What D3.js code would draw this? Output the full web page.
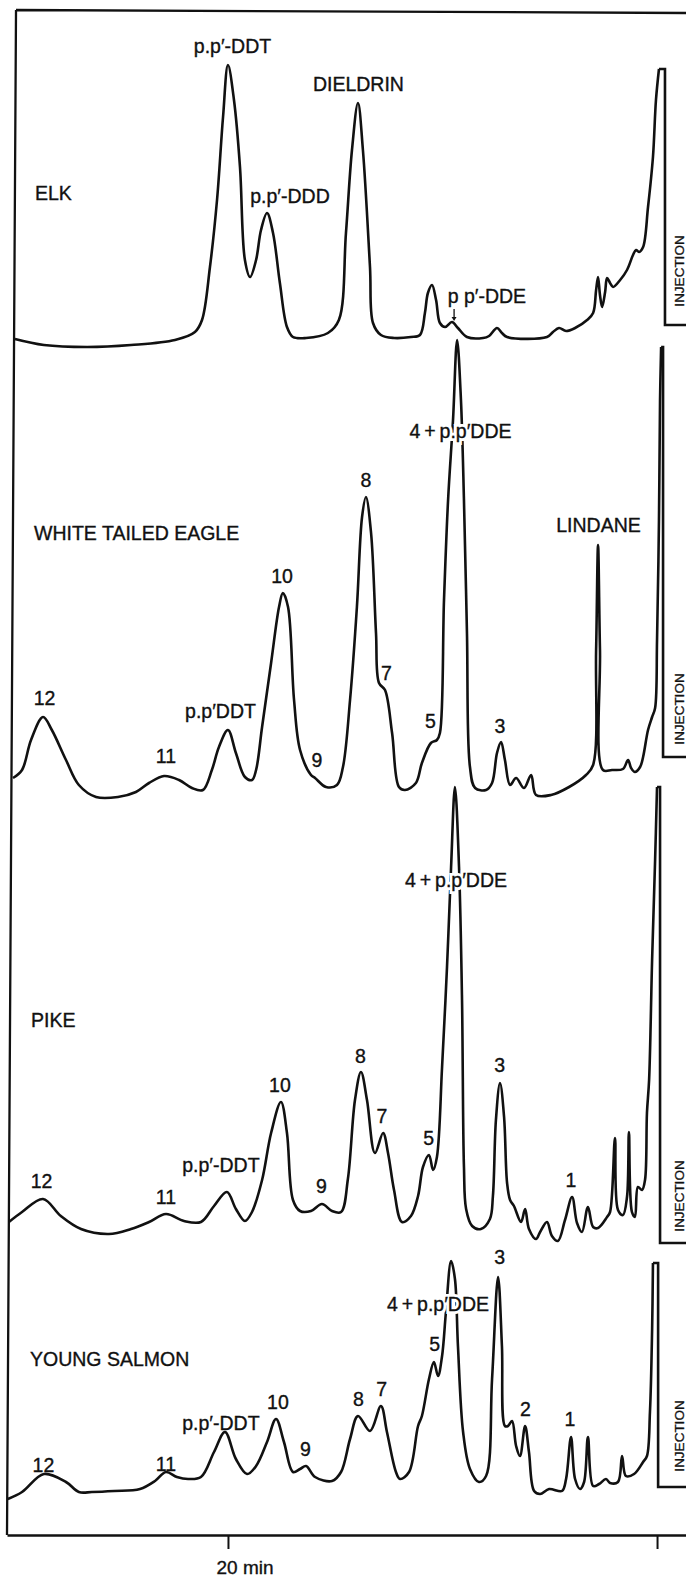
<!DOCTYPE html>
<html>
<head>
<meta charset="utf-8">
<script src="https://cdn.jsdelivr.net/npm/d3@7"></script>
<style>
    body { margin: 0; background: #fff; }
    svg { display: block; }
    text { font-family: "Liberation Sans", Arial, Helvetica, sans-serif; fill: #111; }
</style>
</head>
<body>
<svg id="chart" width="686" height="1579"></svg>
<script>
// Gas chromatograms of four extracts. Each point = [retention time (min), detector response (arb. units)]
// Time runs right to left, injection at 0 min.
const elkTrace = [
    [29.93, 8], [28.58, 2], [26.57, 0], [24.52, 2], [22.47, 7], [21.54, 15], [21.21, 27], [20.84, 80],
    [20.51, 147], [20.23, 230], [20.00, 282], [19.72, 247], [19.44, 180], [19.21, 87], [18.97, 70],
    [18.69, 87], [18.46, 117], [18.18, 134], [17.90, 114], [17.58, 64], [17.25, 20], [16.97, 10],
    [16.36, 9], [15.34, 14], [14.83, 27], [14.50, 114], [14.22, 197], [13.94, 244], [13.71, 197],
    [13.38, 80], [13.24, 24], [12.87, 12], [12.26, 9], [11.47, 10], [11.05, 12], [10.82, 34],
    [10.68, 54], [10.49, 62], [10.30, 47], [10.12, 24], [9.88, 20], [9.56, 25], [9.28, 19],
    [8.86, 10], [8.11, 9], [7.83, 11], [7.46, 19], [7.23, 14], [6.99, 10], [5.13, 10], [4.85, 15],
    [4.57, 19], [4.24, 16], [3.82, 19], [3.26, 27], [2.98, 34], [2.84, 57], [2.75, 70], [2.66, 52],
    [2.56, 40], [2.42, 55], [2.33, 69], [2.19, 64], [2.05, 60], [1.72, 67], [1.40, 77], [1.12, 92],
    [0.98, 97], [0.84, 95], [0.65, 100], [0.42, 140], [0.19, 190], [0.05, 247], [-0.09, 278]
];
const eagleTrace = [
    [30.02, 19], [29.60, 27], [29.18, 57], [28.62, 80], [28.21, 67], [27.55, 37], [26.95, 12],
    [26.15, 0], [25.13, 0], [24.29, 5], [23.68, 14], [22.98, 21], [22.28, 17], [21.68, 9], [21.17, 7],
    [20.75, 27], [20.42, 50], [20.00, 67], [19.63, 44], [19.21, 20], [18.88, 17], [18.69, 27],
    [18.41, 70], [17.99, 134], [17.62, 190], [17.44, 204], [17.20, 190], [16.92, 97], [16.64, 47],
    [16.13, 22], [15.94, 19], [15.43, 10], [14.92, 12], [14.64, 30], [14.31, 97], [13.99, 190],
    [13.75, 280], [13.57, 300], [13.33, 264], [13.10, 164], [12.96, 114], [12.68, 107], [12.35, 64],
    [12.03, 10], [11.75, 7], [11.24, 14], [10.96, 34], [10.54, 54], [10.26, 57], [10.12, 64],
    [9.93, 197], [9.74, 297], [9.51, 377], [9.32, 457], [9.14, 397], [9.00, 297], [8.86, 164],
    [8.72, 30], [8.48, 9], [7.97, 7], [7.69, 14], [7.46, 44], [7.27, 55], [7.09, 37], [6.85, 12],
    [6.57, 19], [6.20, 9], [5.87, 22], [5.64, 2], [4.94, 2], [4.10, 10], [3.31, 22], [2.98, 32],
    [2.84, 147], [2.75, 252], [2.66, 147], [2.52, 27], [2.10, 27], [1.59, 28], [1.35, 37], [1.21, 29],
    [1.03, 25], [0.79, 30], [0.65, 40], [0.42, 67], [0.23, 80], [0.09, 89], [0.00, 157],
    [-0.09, 277], [-0.14, 397], [-0.19, 450]
];
const pikeTrace = [
    [30.21, 19], [29.60, 29], [28.62, 42], [27.79, 25], [26.85, 12], [25.55, 7], [24.52, 12],
    [23.68, 19], [22.89, 27], [22.05, 20], [21.26, 19], [20.65, 35], [20.05, 49], [19.63, 32],
    [19.21, 20], [18.88, 29], [18.41, 61], [17.99, 108], [17.53, 139], [17.25, 108], [16.97, 41],
    [16.64, 30], [16.13, 30], [15.62, 37], [15.15, 30], [14.73, 29], [14.41, 62], [14.08, 141],
    [13.80, 169], [13.52, 141], [13.15, 88], [12.77, 108], [12.54, 88], [12.26, 51], [11.89, 19],
    [11.47, 25], [11.14, 45], [10.91, 74], [10.63, 86], [10.44, 71], [10.26, 84], [10.02, 174],
    [9.79, 274], [9.60, 374], [9.42, 454], [9.23, 374], [9.09, 241], [9.00, 74], [8.90, 32],
    [8.62, 15], [8.21, 12], [7.79, 22], [7.65, 45], [7.51, 121], [7.32, 158], [7.13, 124],
    [6.99, 58], [6.85, 41], [6.67, 35], [6.34, 19], [6.15, 32], [5.97, 12], [5.64, 2], [5.45, 9],
    [5.13, 19], [4.90, 5], [4.62, 0], [4.29, 21], [3.96, 44], [3.73, 18], [3.50, 9], [3.22, 34],
    [2.98, 14], [2.75, 13], [2.33, 24], [2.19, 29], [1.96, 103], [1.82, 31], [1.59, 26], [1.40, 44],
    [1.31, 109], [1.17, 29], [1.03, 24], [0.89, 54], [0.70, 51], [0.56, 61], [0.47, 128],
    [0.37, 161], [0.23, 281], [0.09, 381], [0.00, 454]
];
const salmonTrace = [
    [30.26, 0], [29.60, 7], [28.58, 25], [27.55, 17], [26.95, 7], [26.34, 7], [25.31, 8], [24.10, 10],
    [23.40, 18], [22.89, 27], [22.38, 22], [21.86, 20], [21.26, 22], [20.65, 47], [20.14, 67],
    [19.63, 40], [19.11, 25], [18.69, 33], [18.18, 57], [17.76, 80], [17.39, 57], [16.97, 27],
    [16.64, 30], [16.36, 33], [15.94, 22], [15.15, 18], [14.73, 27], [14.31, 60], [13.94, 83],
    [13.38, 68], [12.87, 93], [12.59, 67], [12.17, 27], [11.98, 20], [11.56, 27], [11.14, 73],
    [10.96, 83], [10.63, 120], [10.40, 137], [10.21, 123], [10.02, 143], [9.84, 187], [9.60, 238],
    [9.42, 220], [9.28, 153], [9.04, 67], [8.72, 30], [8.30, 17], [7.97, 23], [7.69, 120],
    [7.41, 222], [7.23, 153], [7.09, 73], [6.95, 73], [6.76, 78], [6.57, 53], [6.39, 43], [6.15, 73],
    [5.97, 47], [5.73, 8], [5.45, 5], [5.03, 10], [4.43, 8], [4.24, 20], [4.01, 62], [3.82, 20],
    [3.59, 10], [3.40, 17], [3.22, 62], [2.98, 13], [2.70, 15], [2.38, 20], [2.19, 16], [1.82, 17],
    [1.63, 43], [1.45, 23], [1.07, 25], [0.65, 37], [0.47, 43], [0.33, 87], [0.23, 169], [0.19, 236]
];

// injection pen stroke: [time of return stroke (min), top response, foot response]
const elkInjection = [-0.37, 278, 22];
const eagleInjection = [-0.28, 450, 40];
const pikeInjection = [-0.14, 454, -2];
const salmonInjection = [-0.05, 236, 12];

// peak annotations: [text, retention time (min), response at text baseline]
const elkLabels = [
    ["p.p\u2032-DDT", 19.79, 294], ["DIELDRIN", 13.92, 256], ["p.p\u2032-DDD", 17.11, 144],
    ["p p\u2032-DDE", 7.93, 44]
];
const eagleLabels = [
    ["4\u2009+\u2009p.p\u2032DDE", 9.16, 359], ["8", 13.57, 310], ["LINDANE", 2.73, 265], ["10", 17.48, 214],
    ["12", 28.55, 92], ["p.p\u2032DDT", 20.35, 79], ["7", 12.61, 117], ["5", 10.56, 69], ["3", 7.32, 64],
    ["11", 22.89, 34], ["9", 15.85, 30]
];
const pikeLabels = [
    ["4\u2009+\u2009p.p\u2032DDE", 9.37, 354], ["8", 13.82, 178], ["3", 7.34, 169], ["10", 17.58, 149],
    ["7", 12.82, 118], ["5", 10.65, 96], ["p.p\u2032-DDT", 20.33, 69], ["12", 28.69, 53], ["9", 15.64, 48],
    ["11", 22.89, 37], ["1", 4.01, 54]
];
const salmonLabels = [
    ["3", 7.34, 235], ["4\u2009+\u2009p.p\u2032DDE", 10.21, 188], ["5", 10.37, 148], ["8", 13.92, 93],
    ["7", 12.84, 103], ["10", 17.67, 90], ["2", 6.13, 83], ["1", 4.06, 73], ["p.p\u2032-DDT", 20.33, 69],
    ["9", 16.39, 43], ["12", 28.60, 27], ["11", 22.89, 28]
];
// arrow pointing at the small p,p'-DDE peak in the elk trace: [time, from response, to response]
const elkArrow = [9.46, 38, 26];

const axisTicks = [20, 0];

// layout
const traces = [
    { name: "ELK", points: elkTrace, injection: elkInjection, labels: elkLabels, baseline: 347, nameAt: [29.0, 147], injLabel: 76 },
    { name: "WHITE TAILED EAGLE", points: eagleTrace, injection: eagleInjection, labels: eagleLabels, baseline: 797, nameAt: [29.04, 257], injLabel: 88 },
    { name: "PIKE", points: pikeTrace, injection: pikeInjection, labels: pikeLabels, baseline: 1241, nameAt: [29.18, 214], injLabel: 45 },
    { name: "YOUNG SALMON", points: salmonTrace, injection: salmonInjection, labels: salmonLabels, baseline: 1499, nameAt: [29.23, 133], injLabel: 63 }
];

const svg = d3.select("#chart");
const axisY = 1535;
const labelSize = "19.5px";

const x = d3.scaleLinear().domain([30.3, -1.35]).range([7, 686]);

// frame: top rule and slightly skewed left rule as in the scan
svg.append("path")
    .attr("d", `M${x(29.88)},10 L686,13 M${x(29.88)},10 L${x(30.3)},${axisY}`)
    .attr("fill", "none")
    .attr("stroke", "#111")
    .attr("stroke-width", 2.3);

traces.forEach(tr => {
    const y = d3.scaleLinear().domain([0, 500]).range([tr.baseline, tr.baseline - 500]);
    const g = svg.append("g").attr("class", "trace");

    const line = d3.line()
        .x(d => x(d[0]))
        .y(d => y(d[1]))
        .curve(d3.curveCatmullRom.alpha(0.5));

    g.append("path")
        .datum(tr.points)
        .attr("d", line)
        .attr("fill", "none")
        .attr("stroke", "#111")
        .attr("stroke-width", 2.6)
        .attr("stroke-linejoin", "round");

    // injection pen stroke and its box
    const last = tr.points[tr.points.length - 1];
    const [tBack, top, foot] = tr.injection;
    const box = [[last[0], last[1]], [tBack, top], [tBack, foot], [x.domain()[1], foot]];
    g.append("path")
        .datum(box)
        .attr("d", d3.line().x(d => x(d[0])).y(d => y(d[1])))
        .attr("fill", "none")
        .attr("stroke", "#111")
        .attr("stroke-width", 2.6)
        .attr("stroke-linejoin", "miter");

    g.append("text")
        .attr("transform", `translate(${x(-1.03)},${y(tr.injLabel)}) rotate(-90)`)
        .attr("text-anchor", "middle")
        .attr("dominant-baseline", "central")
        .attr("stroke", "#111")
        .attr("stroke-width", 0.3)
        .style("font-size", "13.5px")
        .text("INJECTION");

    g.append("text")
        .attr("x", x(tr.nameAt[0]))
        .attr("y", y(tr.nameAt[1]))
        .attr("stroke", "#111")
        .attr("stroke-width", 0.35)
        .style("font-size", labelSize)
        .text(tr.name);

    // labels written across a peak knock the pen line out
    g.selectAll(".halo")
        .data(tr.labels.filter(d => d[0].startsWith("4")))
        .enter()
        .append("text")
        .attr("class", "halo")
        .attr("x", d => x(d[1]))
        .attr("y", d => y(d[2]))
        .attr("text-anchor", "middle")
        .attr("fill", "#fff")
        .attr("stroke", "#fff")
        .attr("stroke-width", 6)
        .style("fill", "#fff")
        .style("font-size", labelSize)
        .text(d => d[0]);

    g.selectAll(".peak-label")
        .data(tr.labels)
        .enter()
        .append("text")
        .attr("class", "peak-label")
        .attr("x", d => x(d[1]))
        .attr("y", d => y(d[2]))
        .attr("text-anchor", "middle")
        .attr("stroke", "#111")
        .attr("stroke-width", 0.35)
        .style("font-size", labelSize)
        .text(d => d[0]);

    if (tr.name === "ELK") {
        const [ta, r0, r1] = elkArrow;
        g.append("line")
            .attr("x1", x(ta)).attr("x2", x(ta))
            .attr("y1", y(r0)).attr("y2", y(r1) - 3)
            .attr("stroke", "#111")
            .attr("stroke-width", 1.3);
        g.append("path")
            .attr("d", `M${x(ta) - 2.5},${y(r1) - 4} L${x(ta) + 2.5},${y(r1) - 4} L${x(ta)},${y(r1)} Z`)
            .attr("fill", "#111");
    }
});

// time axis
const axisG = svg.append("g")
    .attr("transform", `translate(0,${axisY})`)
    .call(d3.axisBottom(x)
        .tickValues(axisTicks)
        .tickSize(14)
        .tickSizeOuter(0)
        .tickFormat(d => d === 20 ? "20 min" : ""));

axisG.select(".domain").attr("stroke", "#111").attr("stroke-width", 2.3);
axisG.selectAll(".tick line").attr("stroke", "#111").attr("stroke-width", 2);
axisG.selectAll(".tick text")
    .attr("text-anchor", "start")
    .attr("dx", -12)
    .attr("y", 26)
    .attr("dy", "0.71em")
    .attr("fill", "#111")
    .attr("stroke", "#111")
    .attr("stroke-width", 0.35)
    .style("font-size", "19px")
    .style("font-family", "\"Liberation Sans\", Arial, Helvetica, sans-serif");
</script>
</body>
</html>
